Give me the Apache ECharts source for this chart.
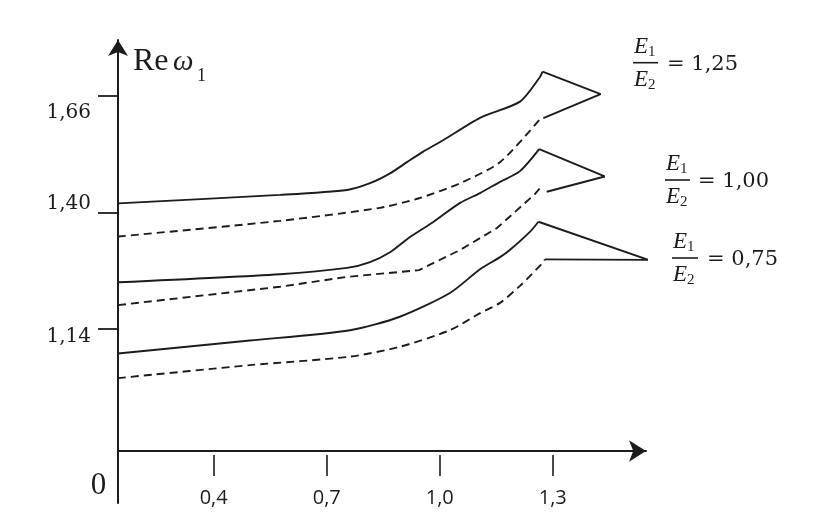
<!DOCTYPE html>
<html>
<head>
<meta charset="utf-8">
<script src="https://cdn.jsdelivr.net/npm/echarts@6/dist/echarts.min.js"></script>
<style>
html,body{margin:0;padding:0;background:#fff;}
#main{width:816px;height:522px;}
</style>
</head>
<body>
<div id="main"></div>
<script>
// ---- tick labels ----
const xTicks = [0.4, 0.7, 1.0, 1.3];
const yTicks = [1.14, 1.40, 1.66];
const ratioTexts = ['1,25', '1,00', '0,75'];

// ---- E1/E2 = 1,25 ----
const solid125 = [[0.146,1.420],[0.576,1.439],[0.754,1.450],[0.815,1.465],[0.868,1.487],[0.913,1.512],[0.955,1.535],[1.009,1.561],[1.107,1.611],[1.213,1.647],[1.266,1.702],[1.273,1.714]];
const tip125 = [[1.273,1.714],[1.427,1.664],[1.275,1.610]];
const dashed125 = [[0.146,1.346],[0.576,1.381],[0.841,1.410],[0.947,1.432],[1.054,1.465],[1.160,1.512],[1.266,1.608]];

// ---- E1/E2 = 1,00 ----
const solid100 = [[0.146,1.244],[0.576,1.262],[0.754,1.276],[0.815,1.289],[0.868,1.311],[0.921,1.345],[0.982,1.378],[1.054,1.421],[1.107,1.443],[1.160,1.468],[1.213,1.492],[1.264,1.541]];
const tip100 = [[1.264,1.541],[1.438,1.480],[1.284,1.446]];
const dashed100 = [[0.146,1.193],[0.576,1.234],[0.754,1.256],[0.945,1.271],[1.054,1.316],[1.152,1.365],[1.253,1.441],[1.269,1.457]];

// ---- E1/E2 = 0,75 ----
const solid075 = [[0.146,1.085],[0.496,1.114],[0.762,1.137],[0.894,1.167],[1.027,1.220],[1.107,1.273],[1.160,1.300],[1.186,1.316],[1.240,1.357],[1.262,1.379]];
const tip075 = [[1.262,1.379],[1.554,1.294],[1.279,1.295]];
const dashed075 = [[0.146,1.030],[0.496,1.059],[0.762,1.078],[0.894,1.100],[1.027,1.137],[1.107,1.175],[1.160,1.198],[1.213,1.236],[1.274,1.288],[1.279,1.295]];

const INK = '#1c1c1c';
function line(data, dashed, smooth) {
  return {
    type: 'line', data: data, xAxisIndex: 0, yAxisIndex: 0,
    showSymbol: false, symbol: 'none', clip: false, silent: true,
    smooth: smooth ? 0.25 : false,
    lineStyle: { color: INK, width: 1.9, type: dashed ? [8, 5] : 'solid' }
  };
}

const serif = '"DejaVu Serif", serif';
const times = '"Liberation Serif", "Times New Roman", serif';

function fracGraphic(left, barY, barW, valueLeft, valueText) {
  const els = [];
  els.push({type:'text', x:left+1, y:barY-16, style:{text:'E', font:'italic 23px '+times, fill:INK, align:'left', verticalAlign:'middle'}});
  els.push({type:'text', x:left+15, y:barY-11, style:{text:'1', font:'15px '+times, fill:INK, align:'left', verticalAlign:'middle'}});
  els.push({type:'line', shape:{x1:left, y1:barY, x2:left+barW, y2:barY}, style:{stroke:INK, lineWidth:1.6}});
  els.push({type:'text', x:left+1, y:barY+17, style:{text:'E', font:'italic 23px '+times, fill:INK, align:'left', verticalAlign:'middle'}});
  els.push({type:'text', x:left+15, y:barY+22, style:{text:'2', font:'15px '+times, fill:INK, align:'left', verticalAlign:'middle'}});
  els.push({type:'text', x:valueLeft, y:barY+2, style:{text:'= ' + valueText, font:'21px '+serif, fill:INK, align:'left', verticalAlign:'middle'}});
  return els;
}

// vertical nudges of the y tick labels, as printed in the original figure
const yLabelStyle = { '1,66': 'dn2', '1,40': 'up', '1,14': 'dn1' };

const chart = echarts.init(document.getElementById('main'), null, {renderer:'canvas'});
const option = {
  backgroundColor: '#ffffff',
  animation: false,
  grid: [
    { left: 118, top: 40, right: 170, bottom: 71 },
    { left: 118, top: 451, width: 10, height: 52 }
  ],
  xAxis: [
    {
      type: 'value', gridIndex: 0, min: 0.146, max: 1.5475, position: 'bottom',
      axisLine: { show: true, lineStyle: { color: INK, width: 2 }, symbol: ['none', 'arrow'], symbolSize: [16, 17] },
      axisTick: { show: false }, axisLabel: { show: false }, splitLine: { show: false }
    },
    {
      type: 'value', gridIndex: 0, min: 0.146, max: 1.5475, position: 'bottom', offset: 4,
      axisLine: { show: false },
      axisTick: { show: true, customValues: xTicks, length: 21, inside: false, lineStyle: { color: INK, width: 1.6 } },
      axisLabel: { show: true, customValues: xTicks, margin: 33, color: INK, fontSize: 20, fontFamily: '"Open Sans", sans-serif',
        formatter: v => v.toFixed(1).replace('.', ',') },
      splitLine: { show: false }
    },
    { type: 'value', gridIndex: 1, show: false, min: 0, max: 1 }
  ],
  yAxis: [
    {
      type: 'value', gridIndex: 0, min: 0.8674, max: 1.7846,
      axisLine: { show: true, lineStyle: { color: INK, width: 2 }, symbol: ['none', 'arrow'], symbolSize: [15, 16] },
      axisTick: { show: true, customValues: yTicks, length: 20, inside: false, lineStyle: { color: INK, width: 1.8 } },
      axisLabel: { show: true, customValues: yTicks, margin: 27, color: INK, fontSize: 20, fontFamily: serif,
        formatter: v => { const t = v.toFixed(2).replace('.', ','); return '{' + (yLabelStyle[t] || 'n') + '|' + t + '}'; },
        rich: {
          n: { fontSize: 20, fontFamily: serif, color: INK },
          dn2: { fontSize: 20, fontFamily: serif, color: INK, padding: [34, 0, 0, 0] },
          up: { fontSize: 20, fontFamily: serif, color: INK, padding: [0, 0, 18, 0] },
          dn1: { fontSize: 20, fontFamily: serif, color: INK, padding: [15, 0, 0, 0] }
        }
      },
      splitLine: { show: false }
    },
    {
      type: 'value', gridIndex: 1, min: 0, max: 1,
      axisLine: { show: true, lineStyle: { color: INK, width: 2 } },
      axisTick: { show: false }, axisLabel: { show: false }, splitLine: { show: false }
    }
  ],
  graphic: [].concat(
    [
      {type:'text', x:133, y:62, style:{text:'Re', font:'32px '+times, fill:INK, align:'left', verticalAlign:'middle'}},
      {type:'text', x:173, y:62.5, style:{text:'ω', font:'italic 29px '+times, fill:INK, align:'left', verticalAlign:'middle'}},
      {type:'text', x:197, y:76, style:{text:'1', font:'18px '+times, fill:INK, align:'left', verticalAlign:'middle'}},
      {type:'text', x:98.5, y:486, style:{text:'0', font:'31px '+times, fill:INK, align:'center', verticalAlign:'middle'}}
    ],
    fracGraphic(633, 62.7, 25, 667, ratioTexts[0]),
    fracGraphic(665, 180, 25, 698, ratioTexts[1]),
    fracGraphic(672, 258, 26, 707, ratioTexts[2])
  ),
  series: [
    line(solid125, false, true), line(tip125, false, false), line(dashed125, true, true),
    line(solid100, false, true), line(tip100, false, false), line(dashed100, true, false),
    line(solid075, false, true), line(tip075, false, false), line(dashed075, true, true)
  ]
};
chart.setOption(option);
</script>
</body>
</html>
